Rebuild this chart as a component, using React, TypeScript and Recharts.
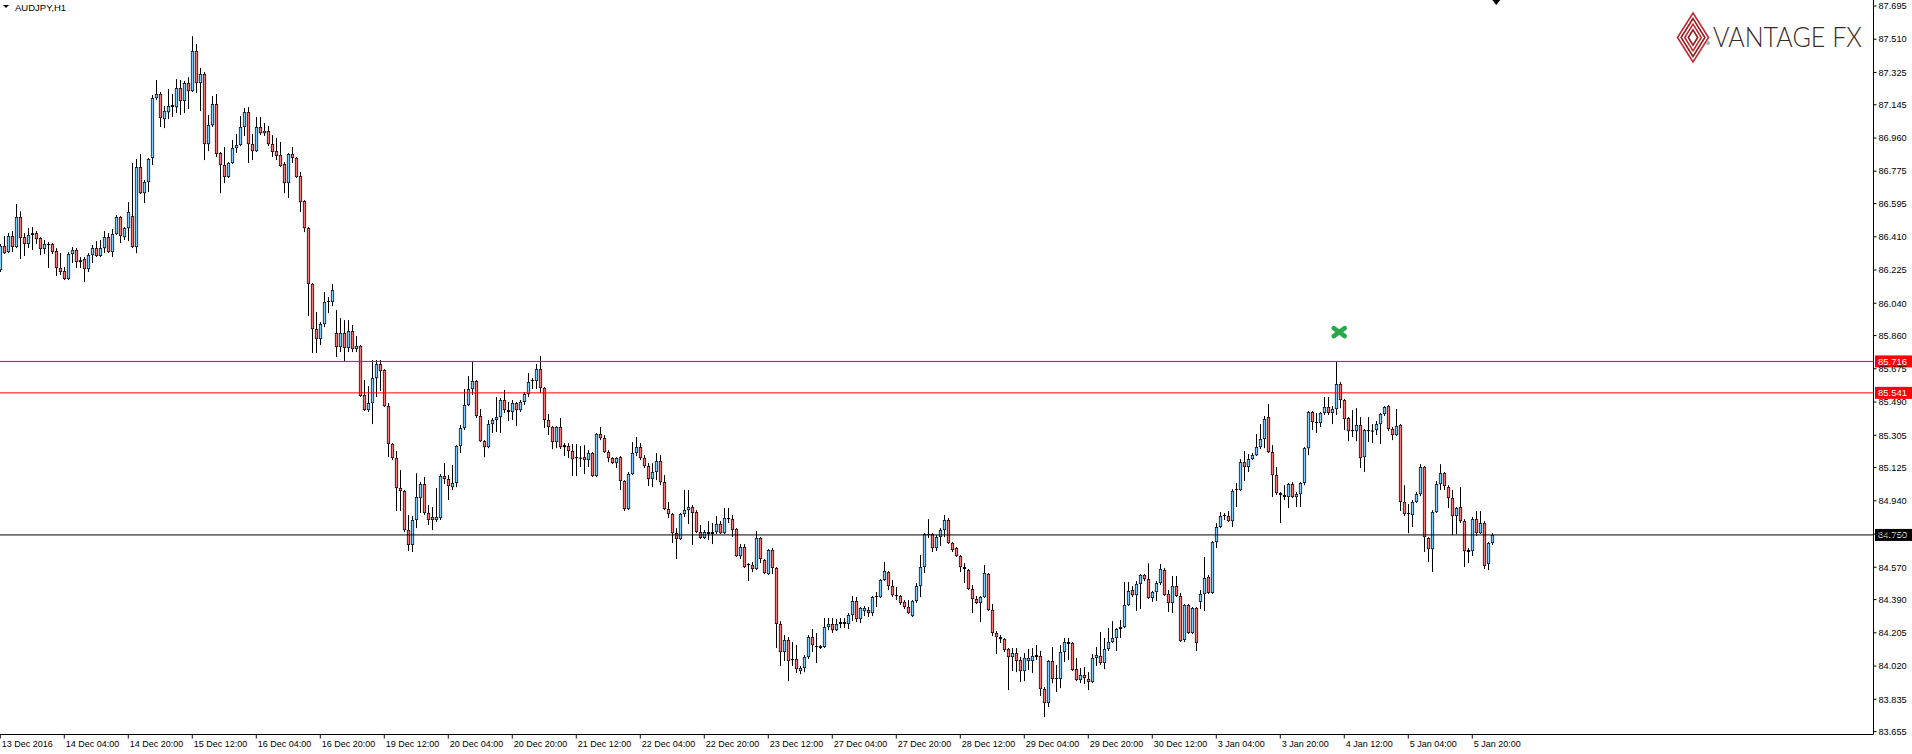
import React from 'react'
import { ComposedChart, Bar, XAxis, YAxis, ReferenceLine, ReferenceDot } from 'recharts'

// AUDJPY H1 candles, 13 Dec 2016 12:00 .. 5 Jan 2017
const OPEN = [
  86.225, 86.359, 86.325, 86.414, 86.353, 86.520, 86.408, 86.370, 86.420, 86.430,
  86.403, 86.342, 86.364, 86.370, 86.331, 86.236, 86.219, 86.175, 86.314, 86.336,
  86.269, 86.286, 86.230, 86.308, 86.347, 86.303, 86.347, 86.408, 86.325, 86.425,
  86.520, 86.408, 86.458, 86.525, 86.353, 86.798, 86.653, 86.715, 86.849, 87.182,
  87.205, 87.065, 87.104, 87.132, 87.132, 87.238, 87.166, 87.266, 87.221, 87.444,
  87.266, 87.316, 86.926, 87.032, 87.149, 86.876, 86.810, 86.743, 86.821, 86.904,
  86.921, 87.021, 87.104, 86.926, 86.887, 87.021, 86.987, 86.999, 86.926, 86.887,
  86.865, 86.815, 86.709, 86.871, 86.849, 86.748, 86.609, 86.458, 86.147, 85.896,
  85.841, 85.924, 86.047, 86.047, 85.874, 85.796, 85.874, 85.791, 85.885, 85.785,
  85.802, 85.529, 85.445, 85.484, 85.623, 85.701, 85.668, 85.467, 85.256, 85.178,
  85.011, 84.994, 84.777, 84.694, 84.833, 84.955, 85.033, 84.872, 84.850, 84.833,
  84.844, 85.078, 85.061, 85.016, 85.039, 85.245, 85.345, 85.473, 85.562, 85.607,
  85.412, 85.272, 85.239, 85.367, 85.390, 85.406, 85.501, 85.445, 85.434, 85.484,
  85.445, 85.490, 85.534, 85.607, 85.607, 85.673, 85.568, 85.390, 85.351, 85.267,
  85.351, 85.239, 85.245, 85.217, 85.178, 85.178, 85.183, 85.167, 85.206, 85.078,
  85.312, 85.289, 85.211, 85.178, 85.150, 85.183, 85.050, 84.894, 85.089, 85.206,
  85.239, 85.178, 85.133, 85.061, 85.100, 85.161, 85.044, 84.894, 84.866, 84.760,
  84.727, 84.866, 84.888, 84.905, 84.877, 84.766, 84.733, 84.766, 84.755, 84.766,
  84.811, 84.760, 84.838, 84.838, 84.783, 84.632, 84.683, 84.582, 84.582, 84.560,
  84.733, 84.610, 84.532, 84.666, 84.566, 84.254, 84.098, 84.165, 84.053, 84.059,
  83.992, 84.009, 84.070, 84.181, 84.126, 84.120, 84.126, 84.237, 84.254, 84.220,
  84.254, 84.265, 84.254, 84.304, 84.382, 84.282, 84.326, 84.332, 84.315, 84.404,
  84.404, 84.499, 84.543, 84.465, 84.410, 84.410, 84.377, 84.349, 84.298, 84.382,
  84.465, 84.571, 84.749, 84.755, 84.677, 84.738, 84.777, 84.833, 84.705, 84.677,
  84.632, 84.571, 84.554, 84.449, 84.393, 84.371, 84.404, 84.532, 84.332, 84.204,
  84.181, 84.170, 84.115, 84.070, 84.092, 84.053, 83.992, 84.048, 84.048, 84.070,
  84.076, 83.892, 83.814, 84.048, 83.948, 83.948, 84.098, 84.154, 84.148, 84.003,
  83.942, 83.970, 83.948, 83.931, 84.065, 84.076, 84.037, 84.115, 84.154, 84.176,
  84.226, 84.237, 84.360, 84.443, 84.415, 84.477, 84.527, 84.504, 84.399, 84.432,
  84.482, 84.554, 84.421, 84.371, 84.465, 84.410, 84.165, 84.360, 84.204, 84.343,
  84.377, 84.421, 84.516, 84.427, 84.710, 84.794, 84.855, 84.855, 84.827, 85.000,
  85.000, 85.155, 85.128, 85.172, 85.194, 85.239, 85.284, 85.406, 85.211, 85.083,
  84.983, 84.972, 84.961, 85.033, 84.961, 84.977, 85.039, 85.233, 85.434, 85.379,
  85.373, 85.429, 85.462, 85.429, 85.451, 85.590, 85.501, 85.401, 85.334, 85.328,
  85.362, 85.183, 85.328, 85.328, 85.334, 85.367, 85.423, 85.467, 85.340, 85.306,
  85.362, 84.933, 84.866, 84.861, 84.933, 84.977, 85.128, 84.733, 84.671, 84.877,
  85.033, 85.094, 85.016, 84.955, 84.855, 84.905, 84.827, 84.666, 84.660, 84.838,
  84.760, 84.816, 84.588, 84.705,
]

const HIGH = [
  86.370, 86.414, 86.430, 86.442, 86.592, 86.553, 86.430, 86.458, 86.464, 86.442,
  86.408, 86.392, 86.381, 86.375, 86.347, 86.319, 86.241, 86.325, 86.353, 86.347,
  86.297, 86.297, 86.319, 86.364, 86.386, 86.392, 86.442, 86.430, 86.453, 86.531,
  86.525, 86.464, 86.603, 86.821, 86.843, 86.871, 86.726, 86.849, 87.199, 87.283,
  87.216, 87.138, 87.233, 87.205, 87.288, 87.283, 87.277, 87.299, 87.527, 87.483,
  87.350, 87.327, 87.088, 87.193, 87.205, 86.882, 86.910, 86.826, 86.949, 86.982,
  87.082, 87.127, 87.132, 86.982, 87.077, 87.077, 87.043, 87.027, 86.976, 86.960,
  86.938, 86.826, 86.876, 86.910, 86.854, 86.770, 86.614, 86.464, 86.152, 85.991,
  85.935, 86.102, 86.074, 86.147, 86.002, 85.957, 85.946, 85.946, 85.919, 85.857,
  85.807, 85.612, 85.579, 85.724, 85.724, 85.724, 85.673, 85.484, 85.261, 85.217,
  85.111, 85.000, 84.861, 84.855, 85.094, 85.045, 85.072, 84.916, 84.905, 85.011,
  85.089, 85.150, 85.083, 85.139, 85.250, 85.362, 85.562, 85.634, 85.718, 85.612,
  85.451, 85.278, 85.390, 85.401, 85.518, 85.512, 85.557, 85.490, 85.501, 85.490,
  85.501, 85.546, 85.651, 85.623, 85.701, 85.746, 85.573, 85.423, 85.356, 85.356,
  85.401, 85.261, 85.261, 85.256, 85.256, 85.245, 85.250, 85.222, 85.211, 85.317,
  85.351, 85.306, 85.222, 85.183, 85.183, 85.189, 85.055, 85.100, 85.267, 85.295,
  85.261, 85.194, 85.150, 85.150, 85.206, 85.194, 85.083, 84.933, 84.872, 84.788,
  84.872, 85.000, 85.000, 84.916, 84.888, 84.805, 84.777, 84.827, 84.816, 84.855,
  84.827, 84.900, 84.900, 84.861, 84.788, 84.699, 84.699, 84.593, 84.599, 84.771,
  84.738, 84.616, 84.671, 84.677, 84.571, 84.270, 84.192, 84.181, 84.154, 84.137,
  84.020, 84.081, 84.192, 84.226, 84.204, 84.137, 84.287, 84.287, 84.287, 84.282,
  84.287, 84.287, 84.315, 84.410, 84.404, 84.349, 84.354, 84.349, 84.410, 84.432,
  84.504, 84.599, 84.549, 84.499, 84.460, 84.415, 84.387, 84.387, 84.387, 84.482,
  84.638, 84.760, 84.838, 84.760, 84.749, 84.788, 84.861, 84.844, 84.710, 84.683,
  84.638, 84.593, 84.560, 84.471, 84.410, 84.410, 84.582, 84.538, 84.365, 84.215,
  84.192, 84.176, 84.120, 84.120, 84.120, 84.070, 84.092, 84.115, 84.120, 84.137,
  84.104, 83.903, 84.053, 84.126, 84.026, 84.137, 84.176, 84.176, 84.154, 84.065,
  84.009, 84.014, 83.986, 84.087, 84.126, 84.209, 84.176, 84.231, 84.270, 84.231,
  84.276, 84.488, 84.488, 84.465, 84.493, 84.532, 84.532, 84.593, 84.438, 84.493,
  84.588, 84.566, 84.443, 84.521, 84.521, 84.427, 84.365, 84.365, 84.349, 84.349,
  84.443, 84.627, 84.527, 84.716, 84.816, 84.877, 84.872, 84.883, 85.005, 85.039,
  85.172, 85.217, 85.200, 85.206, 85.312, 85.367, 85.412, 85.479, 85.250, 85.128,
  84.989, 85.027, 85.039, 85.044, 84.989, 85.044, 85.239, 85.440, 85.440, 85.429,
  85.434, 85.518, 85.518, 85.467, 85.713, 85.601, 85.507, 85.406, 85.445, 85.456,
  85.406, 85.340, 85.406, 85.367, 85.384, 85.429, 85.467, 85.473, 85.351, 85.451,
  85.367, 85.027, 84.922, 84.944, 84.989, 85.144, 85.133, 84.738, 84.888, 85.050,
  85.144, 85.100, 85.027, 85.000, 84.905, 85.016, 84.838, 84.677, 84.850, 84.883,
  84.883, 84.827, 84.710, 84.760,
]

const LOW = [
  86.214, 86.314, 86.319, 86.325, 86.347, 86.286, 86.303, 86.347, 86.336, 86.370,
  86.308, 86.314, 86.236, 86.314, 86.191, 86.197, 86.169, 86.169, 86.264, 86.236,
  86.236, 86.158, 86.214, 86.264, 86.297, 86.297, 86.319, 86.319, 86.297, 86.420,
  86.375, 86.392, 86.386, 86.347, 86.319, 86.648, 86.598, 86.659, 86.810, 87.171,
  87.021, 87.015, 87.065, 87.077, 87.099, 87.088, 87.099, 87.121, 87.216, 87.210,
  87.110, 86.837, 86.887, 87.021, 86.854, 86.653, 86.709, 86.737, 86.815, 86.876,
  86.915, 86.971, 86.821, 86.837, 86.882, 86.976, 86.971, 86.915, 86.854, 86.837,
  86.798, 86.653, 86.626, 86.821, 86.737, 86.548, 86.436, 85.969, 85.763, 85.763,
  85.807, 85.907, 85.985, 86.024, 85.741, 85.768, 85.718, 85.768, 85.768, 85.768,
  85.518, 85.440, 85.434, 85.367, 85.518, 85.551, 85.462, 85.183, 85.167, 84.883,
  84.883, 84.766, 84.660, 84.655, 84.788, 84.872, 84.861, 84.805, 84.777, 84.822,
  84.833, 85.033, 84.944, 85.000, 85.016, 85.206, 85.334, 85.467, 85.529, 85.401,
  85.267, 85.183, 85.233, 85.317, 85.323, 85.317, 85.429, 85.384, 85.390, 85.356,
  85.434, 85.473, 85.518, 85.562, 85.562, 85.540, 85.345, 85.306, 85.228, 85.233,
  85.228, 85.189, 85.178, 85.078, 85.078, 85.128, 85.089, 85.128, 85.072, 85.072,
  85.278, 85.206, 85.155, 85.144, 85.122, 85.000, 84.883, 84.888, 85.083, 85.189,
  85.167, 85.122, 85.022, 85.016, 85.055, 85.027, 84.888, 84.844, 84.705, 84.616,
  84.721, 84.850, 84.811, 84.694, 84.760, 84.727, 84.727, 84.721, 84.699, 84.755,
  84.755, 84.755, 84.816, 84.738, 84.627, 84.616, 84.566, 84.493, 84.543, 84.554,
  84.593, 84.532, 84.527, 84.532, 84.120, 84.020, 84.048, 83.936, 84.020, 83.981,
  83.975, 83.986, 84.059, 84.098, 84.037, 84.115, 84.120, 84.220, 84.204, 84.215,
  84.231, 84.231, 84.226, 84.270, 84.265, 84.259, 84.298, 84.293, 84.298, 84.349,
  84.399, 84.493, 84.443, 84.404, 84.387, 84.360, 84.338, 84.310, 84.293, 84.371,
  84.404, 84.538, 84.733, 84.655, 84.660, 84.688, 84.738, 84.700, 84.655, 84.627,
  84.543, 84.482, 84.443, 84.315, 84.365, 84.265, 84.399, 84.326, 84.187, 84.087,
  84.148, 84.098, 83.886, 83.992, 83.986, 83.931, 83.936, 83.998, 83.981, 84.053,
  83.853, 83.736, 83.792, 83.925, 83.875, 83.897, 84.042, 84.053, 83.992, 83.936,
  83.925, 83.920, 83.886, 83.925, 84.020, 84.026, 84.003, 84.104, 84.148, 84.104,
  84.176, 84.231, 84.354, 84.404, 84.326, 84.338, 84.493, 84.393, 84.377, 84.382,
  84.471, 84.410, 84.321, 84.315, 84.404, 84.154, 84.154, 84.198, 84.198, 84.104,
  84.338, 84.326, 84.421, 84.421, 84.677, 84.788, 84.833, 84.822, 84.794, 84.905,
  84.994, 85.050, 85.100, 85.167, 85.189, 85.228, 85.233, 85.206, 84.961, 84.972,
  84.816, 84.944, 84.900, 84.955, 84.905, 84.905, 85.027, 85.194, 85.334, 85.317,
  85.351, 85.418, 85.418, 85.367, 85.418, 85.456, 85.334, 85.272, 85.295, 85.272,
  85.122, 85.100, 85.267, 85.261, 85.306, 85.256, 85.412, 85.328, 85.278, 85.301,
  84.883, 84.855, 84.760, 84.794, 84.927, 84.966, 84.655, 84.599, 84.543, 84.872,
  85.000, 85.000, 84.900, 84.749, 84.755, 84.816, 84.571, 84.593, 84.632, 84.744,
  84.755, 84.560, 84.554, 84.694,
]

const CLOSE = [
  86.359, 86.319, 86.414, 86.353, 86.520, 86.403, 86.370, 86.420, 86.430, 86.397,
  86.342, 86.370, 86.370, 86.325, 86.236, 86.214, 86.175, 86.314, 86.336, 86.269,
  86.280, 86.230, 86.308, 86.347, 86.303, 86.347, 86.408, 86.325, 86.425, 86.520,
  86.414, 86.458, 86.548, 86.353, 86.798, 86.653, 86.715, 86.843, 87.182, 87.205,
  87.071, 87.110, 87.138, 87.143, 87.238, 87.166, 87.266, 87.221, 87.444, 87.266,
  87.316, 86.926, 87.032, 87.149, 86.871, 86.810, 86.743, 86.821, 86.904, 86.921,
  87.021, 87.104, 86.926, 86.887, 87.021, 86.987, 86.999, 86.926, 86.882, 86.860,
  86.804, 86.709, 86.871, 86.849, 86.743, 86.603, 86.458, 86.147, 85.896, 85.841,
  85.924, 86.047, 86.052, 86.113, 85.796, 85.874, 85.791, 85.885, 85.785, 85.802,
  85.523, 85.445, 85.484, 85.623, 85.701, 85.662, 85.467, 85.256, 85.178, 85.011,
  84.994, 84.777, 84.694, 84.833, 84.961, 85.033, 84.872, 84.833, 84.833, 84.850,
  85.078, 85.061, 85.022, 85.039, 85.245, 85.345, 85.473, 85.562, 85.607, 85.412,
  85.272, 85.239, 85.367, 85.390, 85.406, 85.501, 85.445, 85.434, 85.484, 85.445,
  85.490, 85.534, 85.601, 85.612, 85.673, 85.568, 85.390, 85.351, 85.267, 85.351,
  85.239, 85.250, 85.217, 85.172, 85.183, 85.180, 85.167, 85.206, 85.078, 85.312,
  85.289, 85.211, 85.178, 85.150, 85.178, 85.050, 84.894, 85.089, 85.206, 85.239,
  85.178, 85.133, 85.061, 85.100, 85.161, 85.044, 84.894, 84.866, 84.760, 84.727,
  84.866, 84.888, 84.905, 84.872, 84.766, 84.733, 84.766, 84.755, 84.766, 84.811,
  84.760, 84.844, 84.844, 84.777, 84.632, 84.683, 84.571, 84.588, 84.560, 84.733,
  84.616, 84.538, 84.666, 84.566, 84.254, 84.098, 84.165, 84.048, 84.059, 84.003,
  84.009, 84.070, 84.181, 84.137, 84.131, 84.131, 84.237, 84.254, 84.220, 84.254,
  84.265, 84.254, 84.304, 84.382, 84.282, 84.343, 84.343, 84.315, 84.404, 84.410,
  84.499, 84.549, 84.465, 84.415, 84.415, 84.371, 84.349, 84.315, 84.382, 84.465,
  84.571, 84.755, 84.755, 84.677, 84.738, 84.777, 84.833, 84.705, 84.666, 84.632,
  84.571, 84.560, 84.449, 84.393, 84.371, 84.404, 84.538, 84.332, 84.204, 84.181,
  84.170, 84.109, 84.070, 84.092, 84.048, 83.992, 84.065, 84.065, 84.076, 84.081,
  83.892, 83.814, 84.048, 83.948, 83.953, 84.098, 84.154, 84.143, 83.998, 83.942,
  83.970, 83.953, 83.931, 84.065, 84.081, 84.037, 84.115, 84.154, 84.176, 84.226,
  84.237, 84.360, 84.438, 84.415, 84.477, 84.527, 84.504, 84.399, 84.432, 84.482,
  84.560, 84.415, 84.371, 84.465, 84.410, 84.159, 84.360, 84.204, 84.343, 84.148,
  84.421, 84.510, 84.427, 84.710, 84.794, 84.855, 84.861, 84.827, 84.994, 85.005,
  85.155, 85.128, 85.172, 85.194, 85.239, 85.284, 85.395, 85.211, 85.083, 84.983,
  84.972, 84.961, 85.033, 84.961, 84.977, 85.039, 85.233, 85.434, 85.379, 85.373,
  85.429, 85.462, 85.429, 85.451, 85.590, 85.501, 85.395, 85.328, 85.328, 85.362,
  85.178, 85.334, 85.334, 85.331, 85.367, 85.423, 85.462, 85.340, 85.306, 85.356,
  84.933, 84.866, 84.872, 84.933, 84.977, 85.128, 84.738, 84.671, 84.877, 85.033,
  85.094, 85.022, 84.955, 84.855, 84.900, 84.827, 84.660, 84.655, 84.838, 84.760,
  84.816, 84.577, 84.705, 84.750,
]

// one label every 16 bars
const TIME_LABELS = [
  '13 Dec 2016', '14 Dec 04:00', '14 Dec 20:00', '15 Dec 12:00', '16 Dec 04:00', '16 Dec 20:00',
  '19 Dec 12:00', '20 Dec 04:00', '20 Dec 20:00', '21 Dec 12:00', '22 Dec 04:00', '22 Dec 20:00',
  '23 Dec 12:00', '27 Dec 04:00', '27 Dec 20:00', '28 Dec 12:00', '29 Dec 04:00', '29 Dec 20:00',
  '30 Dec 12:00', '3 Jan 04:00', '3 Jan 20:00', '4 Jan 12:00', '5 Jan 04:00', '5 Jan 20:00',
]
const BARS_PER_LABEL = 16

const PRICE_TICKS = [
  87.695, 87.510, 87.325, 87.145, 86.960, 86.775, 86.595, 86.410, 86.225, 86.040, 85.860, 85.675,
  85.490, 85.305, 85.125, 84.940, 84.755, 84.570, 84.390, 84.205, 84.020, 83.835, 83.655,
]

const LEVELS = [
  { price: 85.716, color: '#ff0000' },
  { price: 85.541, color: '#ff0000' },
  { price: 84.750, color: '#000000' },
]

// green cross marker above the 3 Jan spike, and the chart-shift marker after the last bar
const CROSS = { bar: 334.75, price: 85.879 }
const SHIFT_BAR = 374

const W = 1912
const H = 754
const FONT = '"Liberation Sans", Arial, sans-serif'
const BULL = '#87cefa'
const BEAR = '#f07c7c'
const Y_DOMAIN = [83.6388, 87.7284]
const X_DOMAIN = [-0.0625, 468.3125]

const candles = OPEN.map((o, i) => ({ i, o, h: HIGH[i], l: LOW[i], c: CLOSE[i] }))
const timeTicks = TIME_LABELS.map((_, k) => k * BARS_PER_LABEL)

function Candle(props: any) {
  const { x, y, width, height, payload } = props
  if (!payload || height == null || isNaN(y)) return null
  const top = Math.min(y, y + height)
  const span = Math.abs(height)
  const { o, h, l, c } = payload
  const k = span / (h - l)
  const yO = top + (h - o) * k
  const yC = top + (h - c) * k
  const bTop = Math.min(yO, yC)
  const bH = Math.max(Math.abs(yO - yC), 1)
  const cx = Math.round(x + width / 2) + 0.5
  return (
    <g>
      <line x1={cx} x2={cx} y1={top} y2={top + span} stroke="#000" strokeWidth={1} />
      <rect x={cx - 1.6} y={bTop} width={3.2} height={bH} fill="#000" />
      {bH > 2 && (
        <rect x={cx - 0.9} y={bTop + 0.7} width={1.8} height={bH - 1.4} fill={c >= o ? BULL : BEAR} />
      )}
    </g>
  )
}

function TimeTick(props: any) {
  const { x, y, payload } = props
  const label = TIME_LABELS[Math.round(payload.value / BARS_PER_LABEL)]
  return (
    <text x={x + 1.5} y={y + 6.5} fontSize={9} fontFamily={FONT} fill="#000" textAnchor="start">
      {label}
    </text>
  )
}

function PriceTag(props: any) {
  const { viewBox, text, bg } = props
  if (!viewBox) return null
  const x = viewBox.x + viewBox.width + 1.5
  const y = viewBox.y
  return (
    <g>
      <rect x={x} y={y - 6} width={37} height={12} fill={bg} />
      <text x={x + 3} y={y + 3.5} fontSize={9.5} fontFamily={FONT} fill="#fff">
        {text}
      </text>
    </g>
  )
}

function GreenCross(props: any) {
  const { cx, cy } = props
  if (cx == null) return null
  return (
    <g stroke="#27a84a" strokeWidth={4.5} strokeLinecap="round">
      <line x1={cx - 5.5} y1={cy - 4} x2={cx + 5.5} y2={cy + 4} />
      <line x1={cx - 5.5} y1={cy + 4} x2={cx + 5.5} y2={cy - 4} />
    </g>
  )
}

function ShiftMark(props: any) {
  const { cx, cy } = props
  if (cx == null) return null
  return <polygon points={`${cx - 4},${cy} ${cx + 4},${cy} ${cx},${cy + 5}`} fill="#000" />
}

function Overlay() {
  const diamonds = [0, 1, 2, 3]
  const cx = 23
  const cy = 29.5
  return (
    <>
      <svg width={120} height={16} style={{ position: 'absolute', left: 0, top: 0 }}>
        <polygon points="3,5 9,5 6,8" fill="#000" />
        <text x={15} y={10.5} fontSize={9.5} fontFamily={FONT} fill="#000">
          AUDJPY,H1
        </text>
      </svg>
      <svg width={240} height={64} style={{ position: 'absolute', left: 1670, top: 8, overflow: 'visible' }}>
        {diamonds.map((k) => {
          const hw = 15.5 - 3.6 * k
          const hh = 24.5 - 5.6 * k
          return (
            <polygon
              key={k}
              points={`${cx},${cy - hh} ${cx + hw},${cy} ${cx},${cy + hh} ${cx - hw},${cy}`}
              fill="none"
              stroke={k % 2 ? '#8e1b20' : '#c4282e'}
              strokeWidth={1.6}
            />
          )
        })}
        <circle cx={38} cy={35} r={2} fill="#b0b0b0" />
        <text
          x={43}
          y={39}
          fontSize={28}
          fontFamily="Lato, 'Open Sans', sans-serif"
          fontWeight={300}
          fill="#3b2a2a"
          textLength={149}
          lengthAdjust="spacingAndGlyphs"
        >
          VANTAGE FX
        </text>
      </svg>
    </>
  )
}

export default function App() {
  return (
    <div style={{ position: 'absolute', left: 0, top: 0, width: W, height: H, background: '#fff', overflow: 'hidden' }}>
      <ComposedChart width={W} height={H} data={candles} margin={{ top: 0, right: 0, bottom: 0, left: 0 }}>
        <XAxis
          dataKey="i"
          type="number"
          domain={X_DOMAIN}
          allowDataOverflow
          ticks={timeTicks}
          interval={0}
          tick={<TimeTick />}
          tickSize={4}
          height={19.5}
          stroke="#000"
        />
        <YAxis
          orientation="right"
          type="number"
          domain={Y_DOMAIN}
          allowDataOverflow
          ticks={PRICE_TICKS}
          interval={0}
          width={38.5}
          tickSize={3}
          tickMargin={2}
          tick={{ fill: '#000', fontSize: 9.2, fontFamily: FONT }}
          tickFormatter={(v: number) => v.toFixed(3)}
          stroke="#000"
        />
        <Bar dataKey={(d: any) => [d.l, d.h]} barSize={3} shape={<Candle />} isAnimationActive={false} />
        {LEVELS.map((lv) => (
          <ReferenceLine
            key={lv.price}
            y={lv.price}
            stroke={lv.color}
            strokeWidth={1}
            label={<PriceTag text={lv.price.toFixed(3)} bg={lv.color} />}
          />
        ))}
        <ReferenceDot x={CROSS.bar} y={CROSS.price} r={7} ifOverflow="visible" shape={<GreenCross />} />
        <ReferenceDot x={SHIFT_BAR} y={Y_DOMAIN[1]} r={4} ifOverflow="visible" shape={<ShiftMark />} />
      </ComposedChart>
      <Overlay />
    </div>
  )
}
